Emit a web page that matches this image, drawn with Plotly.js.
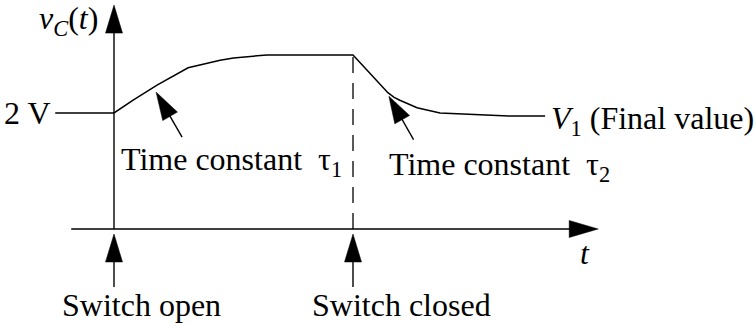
<!DOCTYPE html>
<html>
<head>
<meta charset="utf-8">
<script src="https://cdn.plot.ly/plotly-3.0.1.min.js"></script>
<style>html,body{margin:0;padding:0;background:#fff;}#chart{width:756px;height:324px;}</style>
</head>
<body>
<div id="chart"></div>
<script>
// ---- data (time in arbitrary units, voltage in volts) ----
const timeT = [-1.23, 0, 0.4, 0.9, 1.55, 1.8, 2.22, 2.5, 3.2, 5.0, 5.73, 5.86, 5.98, 6.34, 6.82, 8.26, 9.02];
const voltV = [2.0, 2.0, 2.22, 2.48, 2.78, 2.83, 2.91, 2.95, 3.0, 3.0, 2.35, 2.27, 2.22, 2.09, 2.0, 1.95, 1.95];
const switchTimes = [0, 5];
const switchLabels = ['Switch open', 'Switch closed'];
const tauTipT = [0.88, 5.75];
const tauTipV = [2.36, 2.29];
const tauLabels = ['Time constant  τ<sub>1</sub>', 'Time constant  τ<sub>2</sub>'];
const initialLabel = '2 V';
const finalLabel = '<i>V</i><sub>1</sub> (Final value)';
const yLabel = '<i>v</i><sub><i>C</i></sub>(<i>t</i>)';
const xLabel = '<i>t</i>';
const peakV = 3.0;
const tEnd = 10.13;   // end of time axis arrow
const vTop = 3.86;    // end of voltage axis arrow

// ---- layout helpers ----
const W = 756, H = 324;
const xRange = [-2.385, 13.431];
const yRange = [-1.638, 3.948];
const FONT = 'Liberation Serif';

function arrow(tipT, tipV, dirX, dirY, shaftLen, headLen, headW) {
  const L = Math.hypot(dirX, dirY);
  const ex = dirX / L, ey = -dirY / L;
  const qx = -ey, qy = ex;
  const bx = ex * headLen, by = ey * headLen;
  const h = headW / 2;
  const path = `M0,0 L${(bx + qx*h).toFixed(2)},${(by + qy*h).toFixed(2)} L${(bx - qx*h).toFixed(2)},${(by - qy*h).toFixed(2)} Z`;
  const base = {xref: 'x', yref: 'y', xsizemode: 'pixel', ysizemode: 'pixel', xanchor: tipT, yanchor: tipV};
  return [
    Object.assign({}, base, {type: 'line', x0: bx*0.6, y0: by*0.6, x1: ex*shaftLen, y1: ey*shaftLen,
      line: {color: 'black', width: 1.4}}),
    Object.assign({}, base, {type: 'path', path: path, fillcolor: 'black', line: {color: 'black', width: 0.5}})
  ];
}

let shapes = [];
// voltage axis
shapes = shapes.concat(arrow(0, vTop, 0, 1, 224, 28, 17));
// time axis
shapes = shapes.concat(arrow(tEnd, 0, -1, 0, 527, 29, 17));
// switch arrows
switchTimes.forEach(t => { shapes = shapes.concat(arrow(t, -0.086, 0, 1, 53, 28, 17)); });
// time-constant arrows
shapes = shapes.concat(arrow(tauTipT[0], tauTipV[0], 26, 45, 52, 28, 17));
shapes = shapes.concat(arrow(tauTipT[1], tauTipV[1], 25, 44, 50, 27, 17));
// dashed line at switch closing
shapes.push({type: 'line', xref: 'x', yref: 'y', x0: switchTimes[1], x1: switchTimes[1], y0: 0, y1: peakV,
  line: {color: 'black', width: 1.3, dash: '16px,10px'}});

function txt(text, px, py, xanchor) {
  return {text: text, xref: 'paper', yref: 'paper', x: px / W, y: 1 - py / H,
    xanchor: xanchor, yanchor: 'middle', showarrow: false,
    font: {family: FONT, size: 32, color: 'black'}};
}

const annotations = [
  txt(yLabel, 68, 20, 'center'),
  txt(initialLabel, 53, 113, 'right'),
  txt(tauLabels[0], 119, 161, 'left'),
  txt(tauLabels[1], 387, 166, 'left'),
  txt(finalLabel, 549, 120, 'left'),
  txt(xLabel, 585, 253, 'center'),
  txt(switchLabels[0], 141, 305, 'center'),
  txt(switchLabels[1], 401, 305, 'center')
];

const trace = {x: timeT, y: voltV, type: 'scatter', mode: 'lines',
  line: {color: 'black', width: 1.5}, hoverinfo: 'skip'};

const layout = {
  width: W, height: H,
  margin: {l: 0, r: 0, t: 0, b: 0},
  paper_bgcolor: 'white', plot_bgcolor: 'white',
  showlegend: false,
  font: {family: FONT, size: 32, color: 'black'},
  xaxis: {range: xRange, visible: false, fixedrange: true},
  yaxis: {range: yRange, visible: false, fixedrange: true},
  shapes: shapes,
  annotations: annotations
};

Plotly.newPlot('chart', [trace], layout, {staticPlot: true, displayModeBar: false});
</script>
</body>
</html>
